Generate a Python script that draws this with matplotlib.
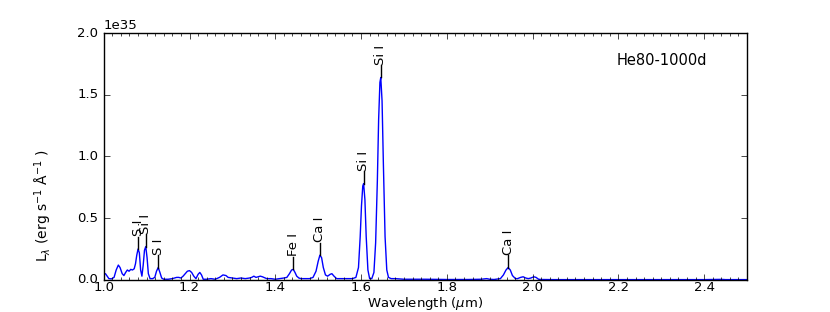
import numpy as np
import matplotlib
matplotlib.use("Agg")
import matplotlib.pyplot as plt
from matplotlib.ticker import MultipleLocator

# Spectrum (wavelength in micron, luminosity in 1e35 erg/s/A)
wavelength = [
    1.000, 1.004, 1.008, 1.012, 1.018, 1.024, 1.029, 1.034, 1.038, 1.043,
    1.047, 1.051, 1.055, 1.059, 1.063, 1.067, 1.071, 1.074, 1.077, 1.080,
    1.083, 1.086, 1.089, 1.092, 1.095, 1.098, 1.101, 1.104, 1.108, 1.114,
    1.119, 1.123, 1.127, 1.131, 1.135, 1.140, 1.150, 1.160, 1.170, 1.175,
    1.180, 1.185, 1.190, 1.195, 1.200, 1.205, 1.210, 1.215, 1.220, 1.224,
    1.228, 1.232, 1.240, 1.250, 1.260, 1.270, 1.278, 1.285, 1.290, 1.300,
    1.310, 1.320, 1.330, 1.340, 1.345, 1.350, 1.355, 1.360, 1.365, 1.370,
    1.380, 1.390, 1.400, 1.410, 1.420, 1.427, 1.433, 1.438, 1.442, 1.446,
    1.450, 1.455, 1.460, 1.470, 1.480, 1.488, 1.495, 1.500, 1.504, 1.508,
    1.512, 1.517, 1.522, 1.528, 1.532, 1.537, 1.543, 1.550, 1.560, 1.570,
    1.580, 1.588, 1.594, 1.598, 1.601, 1.604, 1.606, 1.609, 1.612, 1.616,
    1.620, 1.625, 1.630, 1.634, 1.638, 1.641, 1.644, 1.646, 1.649, 1.652,
    1.656, 1.660, 1.664, 1.670, 1.680, 1.700, 1.750, 1.800, 1.850, 1.880,
    1.893, 1.900, 1.910, 1.925, 1.932, 1.938, 1.943, 1.948, 1.953, 1.960,
    1.965, 1.972, 1.978, 1.984, 1.990, 1.996, 2.003, 2.008, 2.014, 2.020,
    2.050, 2.100, 2.200, 2.300, 2.400, 2.440, 2.450, 2.500,
]
luminosity = [
    0.045, 0.050, 0.030, 0.010, 0.008, 0.020, 0.080, 0.120, 0.100, 0.050,
    0.035, 0.060, 0.080, 0.070, 0.085, 0.080, 0.090, 0.130, 0.200, 0.250,
    0.220, 0.080, 0.030, 0.120, 0.240, 0.270, 0.180, 0.050, 0.010, 0.010,
    0.020, 0.070, 0.100, 0.060, 0.015, 0.005, 0.005, 0.010, 0.020, 0.020,
    0.015, 0.030, 0.050, 0.070, 0.075, 0.060, 0.030, 0.010, 0.045, 0.060,
    0.040, 0.005, 0.005, 0.010, 0.005, 0.020, 0.040, 0.035, 0.020, 0.015,
    0.010, 0.015, 0.010, 0.015, 0.020, 0.030, 0.020, 0.025, 0.030, 0.025,
    0.010, 0.010, 0.005, 0.010, 0.015, 0.020, 0.050, 0.080, 0.085, 0.060,
    0.030, 0.015, 0.010, 0.010, 0.010, 0.020, 0.070, 0.150, 0.200, 0.180,
    0.100, 0.040, 0.030, 0.045, 0.050, 0.030, 0.010, 0.010, 0.010, 0.010,
    0.010, 0.020, 0.100, 0.350, 0.600, 0.760, 0.780, 0.650, 0.350, 0.080,
    0.010, 0.010, 0.060, 0.300, 0.800, 1.300, 1.600, 1.640, 1.450, 0.950,
    0.350, 0.080, 0.020, 0.010, 0.010, 0.005, 0.005, 0.003, 0.003, 0.005,
    0.010, 0.005, 0.003, 0.010, 0.040, 0.080, 0.100, 0.080, 0.035, 0.010,
    0.010, 0.020, 0.025, 0.015, 0.010, 0.015, 0.025, 0.020, 0.005, 0.003,
    0.002, 0.002, 0.002, 0.002, 0.002, 0.004, 0.002, 0.002,
]
scale = 1e35

line_names = ["S I", "Si I", "S I", "Fe I", "Ca I", "Si I", "Si I", "Ca I"]
line_wl = [1.080, 1.098, 1.127, 1.442, 1.504, 1.606, 1.646, 1.943]

model_name = "He80-1000d"

plt.style.use("classic")
plt.rcParams["font.family"] = ["DejaVu Sans"]
plt.rcParams["mathtext.fontset"] = "dejavusans"

fig = plt.figure(figsize=(8.3, 3.12), dpi=100, facecolor="white")
ax = fig.add_subplot(111)
fig.subplots_adjust(left=0.125, right=0.9, bottom=0.103, top=0.894)

wl = np.array(wavelength)
lum = np.array(luminosity) * scale
ax.plot(wl, lum, color="b", lw=1.0)

for name, w in zip(line_names, line_wl):
    peak = np.interp(w, wl, lum)
    ax.plot([w, w], [peak, peak + 0.10 * scale], color="k", lw=1.0)
    ax.text(w, peak + 0.105 * scale, name, rotation=90, ha="center", va="bottom",
            fontsize=9.5)

ax.text(0.868, 0.887, model_name, transform=ax.transAxes, ha="center",
        va="center", fontsize=10.5)

ax.set_xlim(1.0, 2.5)
ax.set_ylim(0, 2.0e35)
ax.xaxis.set_major_locator(MultipleLocator(0.2))
ax.xaxis.set_minor_locator(MultipleLocator(0.02))
ax.yaxis.set_major_locator(MultipleLocator(0.5e35))
ax.tick_params(labelsize=9.5)
ax.tick_params(axis="x", pad=1)
ax.yaxis.get_offset_text().set_fontsize(9.5)
ax.set_xlabel(r"Wavelength ($\mu$m)", fontsize=9.5)
ax.xaxis.set_label_coords(0.5, -0.063)
ax.set_ylabel(r"L$_\lambda$ (erg s$^{-1}$ Å$^{-1}$ )", fontsize=10)
ax.yaxis.set_label_coords(-0.078, 0.30)

fig.savefig("out.png", dpi=100, facecolor="white")
